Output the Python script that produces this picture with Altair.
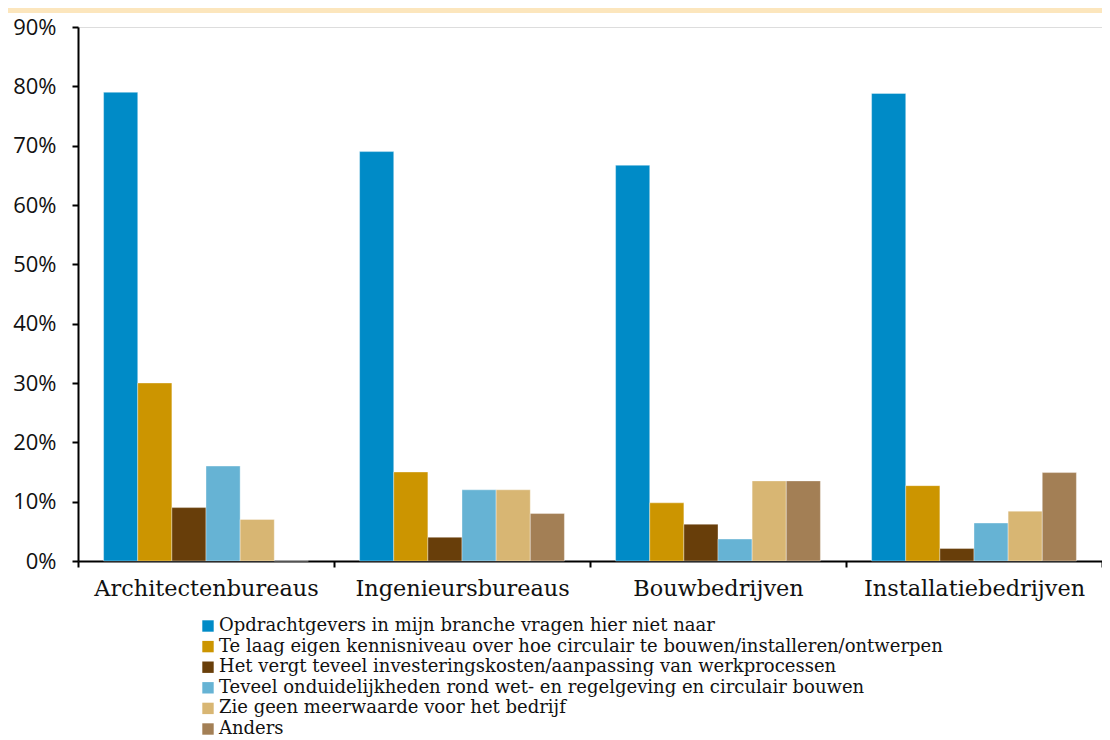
import altair as alt
import pandas as pd

categories = ["Architectenbureaus", "Ingenieursbureaus", "Bouwbedrijven", "Installatiebedrijven"]
series = [
    "Opdrachtgevers in mijn branche vragen hier niet naar",
    "Te laag eigen kennisniveau over hoe circulair te bouwen/installeren/ontwerpen",
    "Het vergt teveel investeringskosten/aanpassing van werkprocessen",
    "Teveel onduidelijkheden rond wet- en regelgeving en circulair bouwen",
    "Zie geen meerwaarde voor het bedrijf",
    "Anders",
]
colors = ["#008BC7", "#CC9500", "#683E0A", "#66B3D4", "#D8B673", "#A37F55"]

v_opdracht = [0.79, 0.69, 0.667, 0.788]
v_kennis = [0.30, 0.15, 0.098, 0.127]
v_kosten = [0.09, 0.04, 0.062, 0.021]
v_regels = [0.16, 0.12, 0.037, 0.064]
v_meerwaarde = [0.07, 0.12, 0.135, 0.084]
v_anders = [0.0, 0.08, 0.135, 0.149]

y_ticks = [0, 0.1, 0.2, 0.3, 0.4, 0.5, 0.6, 0.7, 0.8, 0.9]

all_vals = [v_opdracht, v_kennis, v_kosten, v_regels, v_meerwaarde, v_anders]
rows = []
for s, vals in zip(series, all_vals):
    for c, v in zip(categories, vals):
        rows.append({"cat": c, "series": s, "value": v})
df = pd.DataFrame(rows)

W, H = 1024, 534

bars = alt.Chart(df).mark_bar(stroke="white", strokeWidth=0.6, strokeOpacity=0.6).encode(
    x=alt.X("cat:N", sort=categories, title=None,
            scale=alt.Scale(paddingInner=0, paddingOuter=0),
            axis=alt.Axis(labelAngle=0, tickBand="extent", tickSize=6, tickWidth=2,
                          domainWidth=2, domainColor="black", tickColor="black",
                          labelFont="DejaVu Serif", labelFontSize=22.4, labelColor="#111",
                          labelPadding=10, labelLimit=400, labelFontWeight="normal")),
    xOffset=alt.XOffset("series:N", sort=series,
                        scale=alt.Scale(paddingInner=0, paddingOuter=0.75)),
    y=alt.Y("value:Q", title=None,
            scale=alt.Scale(domain=[0, 0.9], nice=False),
            axis=alt.Axis(values=y_ticks, format=".0%", tickSize=6, tickWidth=2,
                          domainWidth=2, domainColor="black", tickColor="black",
                          labelFont="Open Sans", labelFontSize=22, labelColor="#111",
                          labelPadding=16, grid=False)),
    color=alt.Color("series:N", sort=series,
                    scale=alt.Scale(domain=series, range=colors),
                    legend=alt.Legend(title=None, orient="none", legendX=121, legendY=590,
                                      symbolType="square", symbolSize=130, symbolStrokeWidth=0,
                                      labelFont="DejaVu Serif", labelFontSize=18, labelColor="#111",
                                      labelOffset=2, rowPadding=2.6, padding=0, labelLimit=900)),
)

stripe = alt.Chart(pd.DataFrame({"a": [0]})).mark_rect(color="#FCE6BD").encode(
    x=alt.value(-70), x2=alt.value(W), y=alt.value(-19), y2=alt.value(-14)
)

chart = alt.layer(stripe, bars).properties(
    width=W, height=H,
    padding={"left": 70, "top": 19, "right": 0, "bottom": 179},
    autosize=alt.AutoSizeParams(type="none"),
).configure_view(stroke=None).configure(background="white")

chart.save("out.html", embed_options={"renderer": "svg", "actions": False})
